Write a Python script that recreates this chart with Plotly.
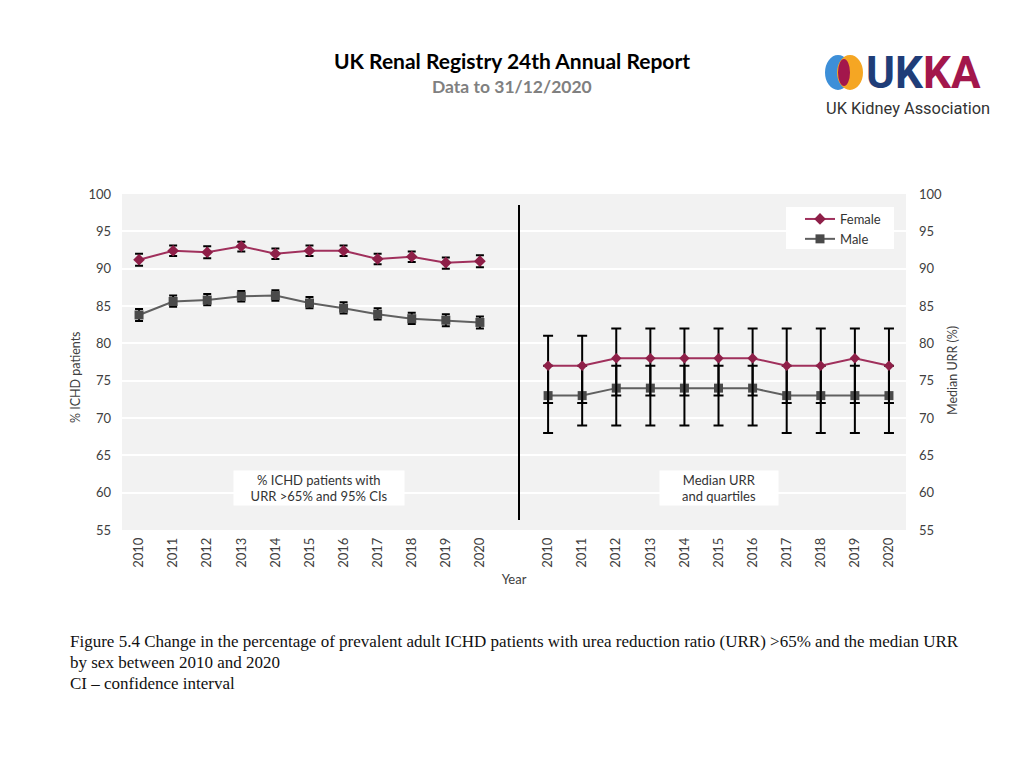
import plotly.graph_objects as go

# ---------------- data ----------------
years = [2010, 2011, 2012, 2013, 2014, 2015, 2016, 2017, 2018, 2019, 2020]
year_labels = [str(y) for y in years]

# % ICHD patients with URR >65% and 95% CI
female_pct = [91.2, 92.4, 92.2, 93.0, 92.0, 92.4, 92.4, 91.3, 91.6, 90.8, 91.0]
female_ci_lo = [90.4, 91.7, 91.4, 92.3, 91.3, 91.7, 91.7, 90.6, 90.9, 90.0, 90.2]
female_ci_hi = [92.0, 93.1, 93.0, 93.6, 92.7, 93.1, 93.1, 92.0, 92.3, 91.5, 91.8]
male_pct = [83.8, 85.6, 85.8, 86.3, 86.4, 85.4, 84.7, 83.9, 83.3, 83.1, 82.8]
male_ci_lo = [83.0, 84.9, 85.1, 85.6, 85.7, 84.7, 84.0, 83.2, 82.6, 82.3, 82.0]
male_ci_hi = [84.6, 86.4, 86.6, 87.0, 87.1, 86.2, 85.5, 84.7, 84.1, 83.9, 83.6]

# Median URR and quartiles
female_med = [77, 77, 78, 78, 78, 78, 78, 77, 77, 78, 77]
female_q1 = [72, 72, 73, 73, 73, 73, 73, 72, 72, 72, 72]
female_q3 = [81, 81, 82, 82, 82, 82, 82, 82, 82, 82, 82]
male_med = [73, 73, 74, 74, 74, 74, 74, 73, 73, 73, 73]
male_q1 = [68, 69, 69, 69, 69, 69, 69, 68, 68, 68, 68]
male_q3 = [77, 77, 77, 77, 77, 77, 77, 77, 77, 77, 77]

y_ticks = [55, 60, 65, 70, 75, 80, 85, 90, 95, 100]

# ---------------- positions on one category-like axis ----------------
n = len(years)
x_left = list(range(n))                 # 0..10
x_right = [i + n + 1 for i in range(n)]  # 12..22
tickvals = x_left + x_right
ticktext = year_labels + year_labels

FEMALE = "#a0305c"
FEMALE_MK = "#8e1f48"
MALE = "#606060"
MALE_MK = "#4a4a4a"
FONT = "Lato"

fig = go.Figure()

fig.add_trace(go.Scatter(
    x=x_left, y=female_pct, name="Female", legendgroup="f",
    mode="lines+markers",
    line=dict(color=FEMALE, width=2),
    marker=dict(symbol="diamond", size=9, color=FEMALE_MK),
    error_y=dict(type="data", symmetric=False,
                 array=[h - v for h, v in zip(female_ci_hi, female_pct)],
                 arrayminus=[v - l for l, v in zip(female_ci_lo, female_pct)],
                 color="black", thickness=2, width=4),
))
fig.add_trace(go.Scatter(
    x=x_left, y=male_pct, name="Male", legendgroup="m",
    mode="lines+markers",
    line=dict(color=MALE, width=2),
    marker=dict(symbol="square", size=9, color=MALE_MK),
    error_y=dict(type="data", symmetric=False,
                 array=[h - v for h, v in zip(male_ci_hi, male_pct)],
                 arrayminus=[v - l for l, v in zip(male_ci_lo, male_pct)],
                 color="black", thickness=2, width=4),
))
fig.add_trace(go.Scatter(
    x=x_right, y=male_med, name="Male", legendgroup="m", showlegend=False,
    yaxis="y2", mode="lines+markers",
    line=dict(color=MALE, width=2),
    marker=dict(symbol="square", size=9, color=MALE_MK),
    error_y=dict(type="data", symmetric=False,
                 array=[q - m for q, m in zip(male_q3, male_med)],
                 arrayminus=[m - q for q, m in zip(male_q1, male_med)],
                 color="black", thickness=2, width=5),
))
fig.add_trace(go.Scatter(
    x=x_right, y=female_med, name="Female", legendgroup="f", showlegend=False,
    yaxis="y2", mode="lines+markers",
    line=dict(color=FEMALE, width=2),
    marker=dict(symbol="diamond", size=8, color=FEMALE_MK),
    error_y=dict(type="data", symmetric=False,
                 array=[q - m for q, m in zip(female_q3, female_med)],
                 arrayminus=[m - q for q, m in zip(female_q1, female_med)],
                 color="black", thickness=2, width=5),
))

# ---------------- layout ----------------
OFF = 8  # page body margin
W, H = 1024, 768
# plot area in page pixels: x 122..906, y 194..530
L, T = 122 - OFF, 194 - OFF
R, B = W - (906 - OFF), H - (530 - OFF)
pw, ph = W - L - R, H - T - B


def px(xp):
    return (xp - OFF - L) / pw


def py(yp):
    return (H - B - (yp - OFF)) / ph


fig.update_layout(
    width=W, height=H,
    margin=dict(l=L, r=R, t=T, b=B, autoexpand=False),
    paper_bgcolor="white",
    plot_bgcolor="#f2f2f2",
    font=dict(family=FONT, color="#404040", size=13),
    showlegend=True,
    legend=dict(x=px(800), y=py(204), xanchor="left", yanchor="top",
                bgcolor="rgba(0,0,0,0)", borderwidth=0,
                font=dict(size=13, color="#333333", family=FONT),
                tracegroupgap=0, itemwidth=30),
    xaxis=dict(range=[-0.5, 22.5], tickmode="array", tickvals=tickvals,
               ticktext=ticktext, tickangle=-90, showgrid=False,
               zeroline=False, showline=False, ticks="",
               ticklabelstandoff=4,
               tickfont=dict(size=13, color="#404040"),
               title=dict(text="Year", font=dict(size=13, color="#404040"),
                          standoff=8)),
    yaxis=dict(range=[55, 100], tickvals=y_ticks, showgrid=True,
               gridcolor="white", gridwidth=2, zeroline=False,
               showline=False, ticks="", ticklabelstandoff=10,
               tickfont=dict(size=13, color="#404040")),
    yaxis2=dict(range=[55, 100], tickvals=y_ticks, overlaying="y",
                side="right", showgrid=False, zeroline=False,
                showline=False, ticks="", ticklabelstandoff=12,
                tickfont=dict(size=13, color="#404040")),
)

# axis titles placed to match the reference
fig.add_annotation(xref="paper", yref="paper", x=px(75), y=py(377),
                   xanchor="center", yanchor="middle", textangle=-90,
                   showarrow=False, text="% ICHD patients",
                   font=dict(size=12.5, color="#404040", family=FONT))
fig.add_annotation(xref="paper", yref="paper", x=px(952), y=py(371),
                   xanchor="center", yanchor="middle", textangle=-90,
                   showarrow=False, text="Median URR (%)",
                   font=dict(size=12.5, color="#404040", family=FONT))

# legend background box
fig.add_shape(type="rect", xref="paper", yref="paper", layer="above",
              x0=px(786), x1=px(894), y0=py(249), y1=py(207),
              fillcolor="white", line=dict(width=0))

fig.add_shape(type="line", xref="paper", yref="paper",
              x0=px(519), x1=px(519), y0=py(205), y1=py(520),
              line=dict(color="black", width=2))

fig.add_annotation(xref="paper", yref="paper", x=px(319), y=py(487.5),
                   xanchor="center", yanchor="middle",
                   text="% ICHD patients with<br>URR >65% and 95% CIs",
                   showarrow=False, bgcolor="white", borderpad=2,
                   width=166, height=30,
                   font=dict(size=13, color="#333333", family=FONT))
fig.add_annotation(xref="paper", yref="paper", x=px(719), y=py(487.5),
                   xanchor="center", yanchor="middle",
                   text="Median URR<br>and quartiles",
                   showarrow=False, bgcolor="white", borderpad=2,
                   width=114, height=30,
                   font=dict(size=13, color="#333333", family=FONT))

fig.add_annotation(xref="paper", yref="paper", x=px(512), y=py(60),
                   xanchor="center", yanchor="middle",
                   text="<b>UK Renal Registry 24th Annual Report</b>",
                   showarrow=False,
                   font=dict(size=21, color="black", family=FONT))
fig.add_annotation(xref="paper", yref="paper", x=px(512), y=py(86),
                   xanchor="center", yanchor="middle",
                   text="<b>Data to 31/12/2020</b>",
                   showarrow=False,
                   font=dict(size=17.5, color="#808080", family=FONT))

# logo (approximate)
fig.add_shape(type="circle", xref="paper", yref="paper",
              x0=px(825), x1=px(851), y0=py(90), y1=py(55),
              fillcolor="#3d8fd8", line=dict(width=0))
fig.add_shape(type="circle", xref="paper", yref="paper",
              x0=px(837), x1=px(863), y0=py(90), y1=py(55),
              fillcolor="#f5a623", line=dict(width=0))
fig.add_shape(type="circle", xref="paper", yref="paper",
              x0=px(838), x1=px(850), y0=py(86), y1=py(59),
              fillcolor="#a3174c", line=dict(width=0))
fig.add_annotation(xref="paper", yref="paper", x=px(864), y=py(73),
                   xanchor="left", yanchor="middle", showarrow=False,
                   text="<b><span style='color:#1f3d78'>UK</span>"
                        "<span style='color:#a3174c'>KA</span></b>",
                   font=dict(size=44, family="Roboto"))
fig.add_annotation(xref="paper", yref="paper", x=px(824), y=py(108),
                   xanchor="left", yanchor="middle", showarrow=False,
                   text="UK Kidney Association",
                   font=dict(size=16.4, color="#333333", family="Roboto"))

caption_lines = [
    "Figure 5.4 Change in the percentage of prevalent adult ICHD patients with urea reduction ratio (URR) >65% and the median URR",
    "by sex between 2010 and 2020",
    "CI \u2013 confidence interval",
]
for i, line in enumerate(caption_lines):
    fig.add_annotation(xref="paper", yref="paper", x=px(68), y=py(641 + 21 * i),
                       xanchor="left", yanchor="middle", showarrow=False,
                       text=line,
                       font=dict(size=17, color="#111111",
                                 family="Liberation Serif"))

fig.write_html("out.html")
